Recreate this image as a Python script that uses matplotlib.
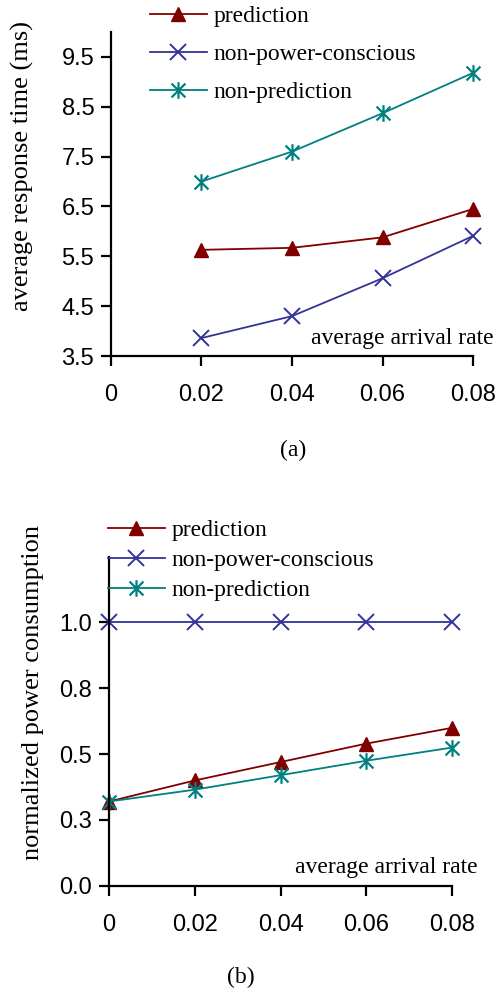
import matplotlib
matplotlib.use("Agg")
from matplotlib import pyplot as plt
from matplotlib.path import Path

# (a) average response time
rate_a = [0.02, 0.04, 0.06, 0.08]
resp_prediction = [5.63, 5.67, 5.88, 6.45]
resp_non_power = [3.86, 4.30, 5.06, 5.91]
resp_non_prediction = [7.00, 7.60, 8.37, 9.18]
yticks_a = [3.5, 4.5, 5.5, 6.5, 7.5, 8.5, 9.5]

# (b) normalized power consumption
rate_b = [0, 0.02, 0.04, 0.06, 0.08]
pow_prediction = [0.32, 0.40, 0.47, 0.54, 0.60]
pow_non_power = [1.0, 1.0, 1.0, 1.0, 1.0]
pow_non_prediction = [0.32, 0.365, 0.42, 0.475, 0.525]
yticks_b = [0, 0.25, 0.5, 0.75, 1.0]
yticklabels_b = ["0.0", "0.3", "0.5", "0.8", "1.0"]

xticks = [0, 0.02, 0.04, 0.06, 0.08]
xticklabels = ["0", "0.02", "0.04", "0.06", "0.08"]

RED = "#800000"
BLUE = "#333399"
TEAL = "#008080"
SERIF = ["Liberation Serif", "DejaVu Serif"]
SANS = ["Liberation Sans", "DejaVu Sans"]
TXT = 17
YLAB = 19

# excel-style star: an x with a vertical bar through it
STAR = Path([(-1, -1), (1, 1), (-1, 1), (1, -1), (0, -1.2), (0, 1.2)],
            [Path.MOVETO, Path.LINETO, Path.MOVETO, Path.LINETO, Path.MOVETO, Path.LINETO])

fig = plt.figure(figsize=(4.99, 9.90), dpi=100)


def style_axes(ax):
    for side in ["top", "right"]:
        ax.spines[side].set_visible(False)
    for side in ["left", "bottom"]:
        ax.spines[side].set_linewidth(1.6)
    ax.tick_params(axis="y", direction="out", length=7, width=1.6, pad=5)
    ax.tick_params(axis="x", direction="out", length=7, width=1.6, pad=13)
    for lbl in ax.get_xticklabels() + ax.get_yticklabels():
        lbl.set_fontfamily(SANS)
        lbl.set_fontsize(17)


def draw_series(ax, x, pred, npc, nonpred):
    ax.plot(x, pred, color=RED, lw=1.3, marker="^", ms=10, mec=RED, mfc=RED,
            label="prediction", clip_on=False)
    ax.plot(x, npc, color=BLUE, lw=1.3, marker="x", ms=11, mew=1.4,
            label="non-power-conscious", clip_on=False)
    ax.plot(x, nonpred, color=TEAL, lw=1.3, marker=STAR, ms=12, mew=1.6,
            mec=TEAL, mfc="none", label="non-prediction", clip_on=False)


# top chart
ax1 = fig.add_axes([0.2224, 0.6404, 0.7256, 0.3273])
draw_series(ax1, rate_a, resp_prediction, resp_non_power, resp_non_prediction)
ax1.set_xlim(0, 0.08)
ax1.set_ylim(3.5, 10.0)
ax1.set_yticks(yticks_a)
ax1.set_yticklabels([f"{v:.1f}" for v in yticks_a])
ax1.set_xticks(xticks)
ax1.set_xticklabels(xticklabels)
style_axes(ax1)
ax1.legend(loc="upper left", bbox_to_anchor=(0.296, 0.997), bbox_transform=fig.transFigure,
           frameon=False, handlelength=2.4, handletextpad=0.3, labelspacing=0.7,
           borderpad=0.1, prop={"family": SERIF, "size": TXT}, borderaxespad=0)

fig.text(0.044, 0.832, "average response time (ms)", rotation=90, ha="center", va="center",
         family=SERIF, fontsize=YLAB)
fig.text(0.99, 0.658, "average arrival rate", ha="right", va="center",
         family=SERIF, fontsize=TXT)
fig.text(0.587, 0.545, "(a)", ha="center", va="center", family=SERIF, fontsize=TXT)

# bottom chart
ax2 = fig.add_axes([0.2184, 0.1053, 0.688, 0.3324])
draw_series(ax2, rate_b, pow_prediction, pow_non_power, pow_non_prediction)
ax2.set_xlim(0, 0.08)
ax2.set_ylim(0, 1.25)
ax2.set_yticks(yticks_b)
ax2.set_yticklabels(yticklabels_b)
ax2.set_xticks(xticks)
ax2.set_xticklabels(xticklabels)
style_axes(ax2)
ax2.legend(loc="upper left", bbox_to_anchor=(0.2116, 0.4772), bbox_transform=fig.transFigure,
           frameon=False, handlelength=2.4, handletextpad=0.3, labelspacing=0.35,
           borderpad=0.1, prop={"family": SERIF, "size": TXT}, borderaxespad=0)

fig.text(0.066, 0.301, "normalized power consumption", rotation=90, ha="center", va="center",
         family=SERIF, fontsize=YLAB)
fig.text(0.958, 0.124, "average arrival rate", ha="right", va="center",
         family=SERIF, fontsize=TXT)
fig.text(0.482, 0.013, "(b)", ha="center", va="center", family=SERIF, fontsize=TXT)

plt.savefig("out.png", dpi=100)
plt.close()
